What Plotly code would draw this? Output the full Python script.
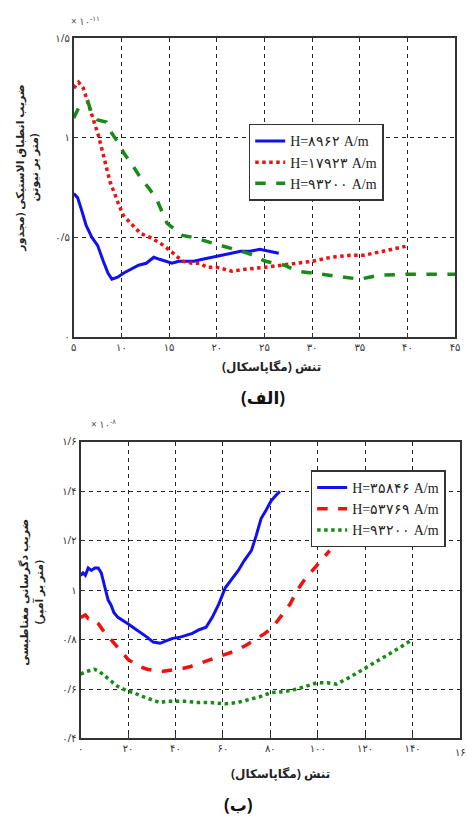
import plotly.graph_objects as go

# ---------- data (top chart: الف) ----------
x_b1 = [5, 5.4, 5.8, 6.3, 6.9, 7.5, 8.1, 8.6, 9.0, 9.6, 10.2, 11.0, 11.8, 12.6, 13.4, 14.0, 14.7, 15.3, 16.0, 16.8, 17.6, 18.5, 19.5, 20.5, 21.5, 22.5, 23.5, 24.5, 25.5, 26.5]
y_b1 = [0.72, 0.70, 0.64, 0.56, 0.50, 0.46, 0.38, 0.32, 0.29, 0.30, 0.32, 0.34, 0.36, 0.37, 0.40, 0.39, 0.38, 0.37, 0.38, 0.38, 0.38, 0.39, 0.40, 0.41, 0.42, 0.43, 0.43, 0.44, 0.43, 0.42]

x_r1 = [5, 5.5, 6.0, 6.5, 7.0, 7.6, 8.2, 8.8, 9.6, 10.2, 11.0, 12.0, 13.0, 14.1, 15.2, 16.4, 17.4, 18.2, 19.0, 20.0, 21.6, 23.0, 25.1, 27.0, 28.5, 30.0, 32.0, 34.0, 35.4, 37.5, 39.8]
y_r1 = [1.25, 1.28, 1.25, 1.18, 1.10, 1.01, 0.90, 0.78, 0.68, 0.61, 0.57, 0.52, 0.50, 0.47, 0.43, 0.38, 0.37, 0.37, 0.35, 0.35, 0.33, 0.34, 0.35, 0.36, 0.37, 0.38, 0.40, 0.41, 0.41, 0.43, 0.455]

x_g1 = [5, 5.5, 6.0, 6.5, 6.9, 7.5, 8.4, 8.9, 9.6, 10.3, 11.2, 12.0, 13.0, 13.8, 14.8, 15.6, 16.4, 17.5, 18.9, 20.3, 21.6, 23.3, 25.1, 27.1, 28.5, 30.2, 31.9, 33.5, 35.0, 36.0, 37.1, 40, 42.5, 45]
y_g1 = [1.10, 1.15, 1.16, 1.18, 1.12, 1.09, 1.08, 1.03, 0.98, 0.92, 0.86, 0.80, 0.74, 0.68, 0.57, 0.54, 0.51, 0.50, 0.48, 0.46, 0.445, 0.42, 0.38, 0.36, 0.33, 0.32, 0.31, 0.30, 0.29, 0.30, 0.31, 0.315, 0.315, 0.315]

names1 = ["H=۸۹۶۲ A/m", "H=۱۷۹۲۳ A/m", "H=۹۳۲۰۰ A/m"]
xt1_vals = [5, 10, 15, 20, 25, 30, 35, 40, 45]
xt1_text = ["۵", "۱۰", "۱۵", "۲۰", "۲۵", "۳۰", "۳۵", "۴۰", "۴۵"]
yt1_vals = [0, 0.5, 1, 1.5]
yt1_text = ["۰", "۰/۵", "۱", "۱/۵"]

# ---------- data (bottom chart: ب) ----------
x_b2 = [0, 1, 2, 3.2, 4.5, 6, 7.4, 8.7, 10, 11.6, 12.8, 14, 15.7, 17.5, 19.8, 22, 25.2, 28, 30.6, 33.5, 36, 38.8, 42, 45, 47.1, 50, 52.9, 55.5, 58.3, 61, 63.5, 66.5, 69, 72, 74, 76.1, 78, 80.2, 82, 84]
y_b2 = [1.06, 1.07, 1.06, 1.09, 1.08, 1.09, 1.09, 1.07, 1.02, 0.96, 0.94, 0.91, 0.89, 0.88, 0.865, 0.85, 0.83, 0.81, 0.79, 0.785, 0.795, 0.805, 0.81, 0.82, 0.825, 0.84, 0.85, 0.89, 0.945, 1.01, 1.04, 1.08, 1.12, 1.16, 1.22, 1.29, 1.32, 1.36, 1.38, 1.40]

x_r2 = [0, 2, 3.2, 5, 7.4, 10, 12.8, 15.5, 18.2, 20, 22.4, 25, 28.1, 31, 33.5, 37, 41.7, 46, 50, 55, 59.5, 64, 69.4, 73.5, 77.7, 81, 84.3, 88.4, 91.3, 95, 99.6, 103, 105]
y_r2 = [0.89, 0.90, 0.885, 0.885, 0.865, 0.83, 0.80, 0.77, 0.735, 0.72, 0.705, 0.69, 0.68, 0.675, 0.67, 0.675, 0.68, 0.69, 0.705, 0.72, 0.735, 0.75, 0.775, 0.80, 0.825, 0.85, 0.89, 0.945, 1.0, 1.05, 1.10, 1.14, 1.16]

x_g2 = [0, 2, 4, 5.8, 8, 9.9, 12.5, 15.7, 19, 22.4, 26, 30, 33.5, 36, 38.8, 44, 50, 55, 61, 66, 72, 76, 80.2, 86, 91.3, 96, 99.6, 104, 107.9, 113, 119, 124, 129.8, 135, 139.8]
y_g2 = [0.66, 0.67, 0.675, 0.68, 0.67, 0.655, 0.635, 0.61, 0.595, 0.585, 0.57, 0.555, 0.545, 0.55, 0.55, 0.55, 0.545, 0.545, 0.54, 0.545, 0.56, 0.57, 0.585, 0.59, 0.60, 0.615, 0.625, 0.625, 0.62, 0.645, 0.68, 0.71, 0.74, 0.77, 0.80]

names2 = ["H=۳۵۸۴۶ A/m", "H=۵۳۷۶۹ A/m", "H=۹۳۲۰۰ A/m"]
xt2_vals = [0, 20, 40, 60, 80, 100, 120, 140, 160]
xt2_text = ["۰", "۲۰", "۴۰", "۶۰", "۸۰", "۱۰۰", "۱۲۰", "۱۴۰", "۱۶۰"]
yt2_vals = [0.4, 0.6, 0.8, 1.0, 1.2, 1.4, 1.6]
yt2_text = ["۰/۴", "۰/۶", "۰/۸", "۱", "۱/۲", "۱/۴", "۱/۶"]

BLUE = "#1010f0"
RED = "#f01010"
GREEN = "#188a18"
W, H = 467, 823
FONT = "Noto Sans, DejaVu Sans, sans-serif"
SERIF = "Liberation Serif, DejaVu Serif, serif"

fig = go.Figure()
fig.add_trace(go.Scatter(x=x_b1, y=y_b1, mode="lines", name=names1[0], line=dict(color=BLUE, width=3), xaxis="x", yaxis="y", legend="legend"))
fig.add_trace(go.Scatter(x=x_r1, y=y_r1, mode="lines", name=names1[1], line=dict(color=RED, width=3.5, dash="dot"), xaxis="x", yaxis="y", legend="legend"))
fig.add_trace(go.Scatter(x=x_g1, y=y_g1, mode="lines", name=names1[2], line=dict(color=GREEN, width=3.5, dash="dash"), xaxis="x", yaxis="y", legend="legend"))

fig.add_trace(go.Scatter(x=x_b2, y=y_b2, mode="lines", name=names2[0], line=dict(color=BLUE, width=3), xaxis="x2", yaxis="y2", legend="legend2"))
fig.add_trace(go.Scatter(x=x_r2, y=y_r2, mode="lines", name=names2[1], line=dict(color=RED, width=3.5, dash="dash"), xaxis="x2", yaxis="y2", legend="legend2"))
fig.add_trace(go.Scatter(x=x_g2, y=y_g2, mode="lines", name=names2[2], line=dict(color=GREEN, width=3.5, dash="dot"), xaxis="x2", yaxis="y2", legend="legend2"))

def px_x(p):
    return p / W

def px_y(p):
    return 1 - p / H

axis_common = dict(
    showgrid=True, gridcolor="#222", gridwidth=1.2, griddash="4px,4px",
    showline=True, linecolor="#333", linewidth=2, mirror=True,
    ticks="inside", ticklen=4, tickcolor="#333", zeroline=False,
    tickfont=dict(family=FONT, size=10, color="#333"), tickmode="array",
)

legend_common = dict(
    bgcolor="white", bordercolor="#333", borderwidth=1.5,
    font=dict(family=SERIF, size=14, color="#222"),
    xanchor="left", yanchor="top", tracegroupgap=0, itemwidth=30,
)

fig.update_layout(
    width=W, height=H,
    margin=dict(l=0, r=0, t=0, b=0),
    paper_bgcolor="white", plot_bgcolor="white",
    xaxis=dict(domain=[px_x(72), px_x(460)], range=[5, 45], anchor="y",
               tickvals=xt1_vals, ticktext=xt1_text, **axis_common),
    yaxis=dict(domain=[px_y(335), px_y(31)], range=[0, 1.5], anchor="x",
               tickvals=yt1_vals, ticktext=yt1_text, **axis_common),
    xaxis2=dict(domain=[px_x(79), px_x(465)], range=[0, 160], anchor="y2",
                tickvals=xt2_vals[:-1], ticktext=xt2_text[:-1], **axis_common),
    yaxis2=dict(domain=[px_y(744), px_y(442)], range=[0.4, 1.6], anchor="x2",
                tickvals=yt2_vals, ticktext=yt2_text, **axis_common),
    legend=dict(x=px_x(250), y=px_y(118), **legend_common),
    legend2=dict(x=px_x(313), y=px_y(471), **legend_common),
    showlegend=True,
)

# last bottom x tick label, partly cut off by the page edge as in the reference
fig.add_annotation(text=xt2_text[-1], x=xt2_vals[-1], xref="x2", y=px_y(758), yref="paper",
                   showarrow=False, xanchor="left", xshift=-7, yanchor="middle",
                   font=dict(family=FONT, size=10, color="#333"))

def ann(text, x, y, size=11, angle=0, bold=False, color="#222"):
    if bold:
        text = "<b>" + text + "</b>"
    fig.add_annotation(text=text, x=px_x(x), y=px_y(y), xref="paper", yref="paper",
                       showarrow=False, textangle=angle, xanchor="center", yanchor="middle",
                       font=dict(family=FONT, size=size, color=color))

# exponent labels
ann("× ۱۰<sup>-۱۱</sup>", 84, 13, size=10, color="#555")
ann("× ۱۰<sup>-۸</sup>", 102, 424, size=10, color="#555")

# y axis titles
ann("ضریب انطباق الاستیکی (مجذور<br>متر بر نیوتن)", 23, 163, size=11, angle=-90, bold=True)
ann("ضریب دگرسانی مغناطیسی<br>(متر بر آمپر)", 28, 595, size=11, angle=-90, bold=True)

# x axis titles
ann("تنش (مگاپاسکال)", 273, 365, size=12, bold=True)
ann("تنش (مگاپاسکال)", 282, 780, size=12, bold=True)

# sub captions
ann("(الف)", 265, 397, size=17, bold=True, color="#111")
ann("(ب)", 240, 811, size=17, bold=True, color="#111")

fig.write_html("out.html", config={"displayModeBar": False})
